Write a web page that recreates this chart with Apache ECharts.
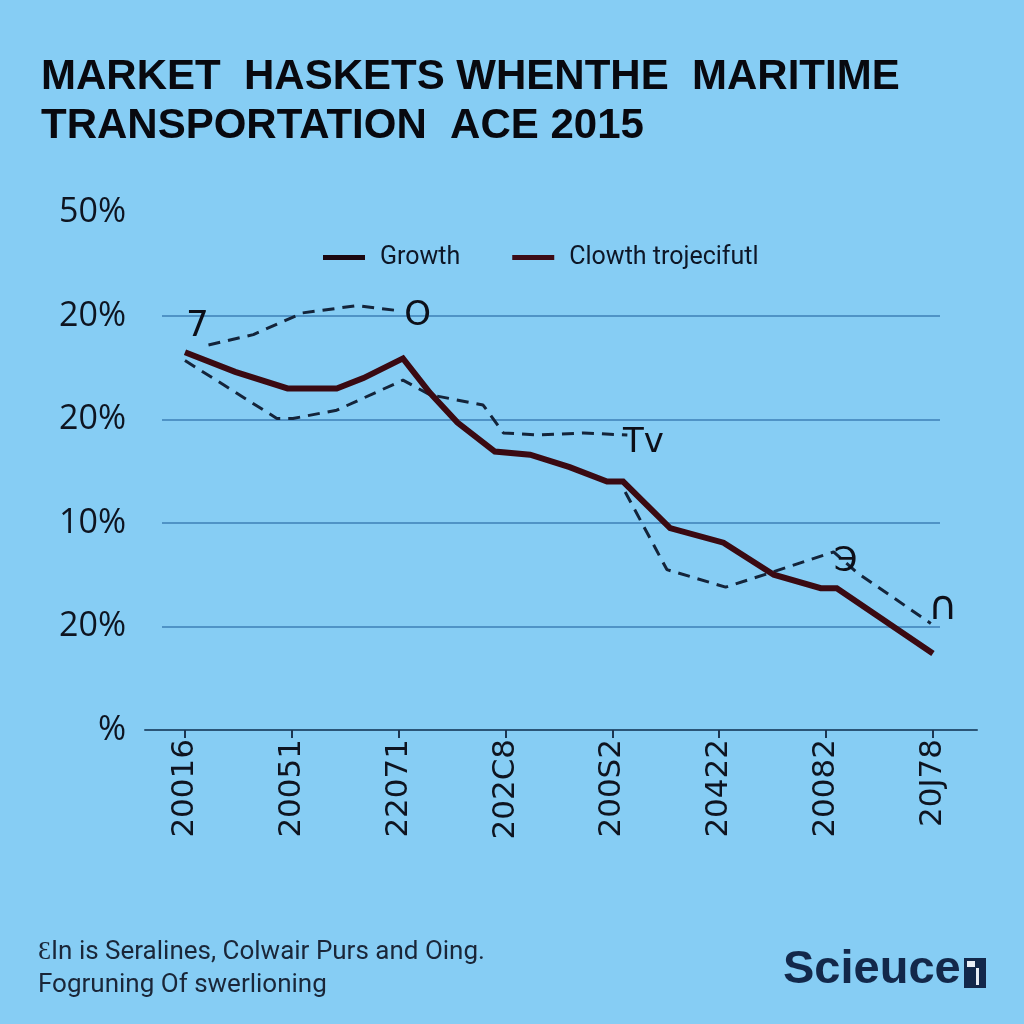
<!DOCTYPE html>
<html>
<head>
<meta charset="utf-8">
<script src="https://cdn.jsdelivr.net/npm/echarts@6/dist/echarts.min.js"></script>
<style>
html,body{margin:0;padding:0;background:#86cdf4;}
#chart{width:1024px;height:1024px;}
</style>
</head>
<body>
<div id="chart"></div>
<script>
// ---- data ----
const titleLines = ['MARKET  HASKETS WHENTHE  MARITIME', 'TRANSPORTATION  ACE 2015'];
const xTickLabels = ['20016', '20051', '22071', '202C8', '200S2', '20422', '20082', '20J78'];
const xTickValues = [0, 1, 2, 3, 4, 5, 6, 7];
const yTickLabels = ['%', '20%', '10%', '20%', '20%', '50%'];
const seriesNames = ['Growth', 'Clowth trojecifutl'];

// solid "Growth" line (x in tick units, y in tick units)
const growthX = [0, 0.47, 0.96, 1.42, 1.67, 2.04, 2.29, 2.55, 2.90, 3.23, 3.60, 3.95, 4.10, 4.54, 5.04, 5.51, 5.95, 6.10, 7.00];
const growthY = [3.65, 3.46, 3.30, 3.30, 3.40, 3.59, 3.26, 2.97, 2.69, 2.66, 2.54, 2.40, 2.40, 1.95, 1.81, 1.50, 1.37, 1.37, 0.74];

// dashed projection pieces
const projAX = [0.22, 0.64, 1.10, 1.61, 2.01];
const projAY = [3.72, 3.82, 4.03, 4.10, 4.05];
const projALabels = ['7', '', '', '', 'O'];

const projBX = [0, 0.86, 1.01, 1.42, 2.04, 2.29, 2.79, 2.98, 3.30, 3.73, 4.14];
const projBY = [3.57, 3.01, 3.01, 3.09, 3.38, 3.24, 3.14, 2.87, 2.85, 2.87, 2.85];
const projBLabels = ['', '', '', '', '', '', '', '', '', '', 'Tv'];

const projCX = [4.12, 4.51, 5.06, 5.51, 6.07, 6.29, 6.98];
const projCY = [2.30, 1.55, 1.38, 1.53, 1.72, 1.52, 1.03];
const projCLabels = ['', '', '', '', 'Э', '', '∩'];

const footerLines = ['ƐIn is Seralines, Colwair Purs and Oing.', 'Fogruning Of swerlioning'];
const logoText = 'Scieuce';

// ---- styling / layout ----
const BG = '#86cdf4';
const DASH = '#14243a';
const SOLID = '#3a0a12';
const annotOffsets = {
  '7': [-11, -18], 'O': [18, 5], 'Tv': [16, 8], 'Э': [12, 10], '∩': [12, -15]
};
const annotSizes = { '7': 36, 'O': 34, 'Tv': 34, 'Э': 34, '∩': 40 };

function buildDashed(xs, ys, labels) {
  return xs.map((x, i) => {
    const t = labels[i];
    const item = { value: [x, ys[i]] };
    if (t) {
      item.label = {
        show: true, formatter: t, position: 'inside',
        offset: annotOffsets[t], align: 'center', verticalAlign: 'middle',
        fontSize: annotSizes[t], color: '#0d0f18', fontFamily: 'DejaVu Sans'
      };
    }
    return item;
  });
}

function dashedSeries(xs, ys, labels) {
  return {
    name: seriesNames[1], type: 'line', xAxisIndex: 0, yAxisIndex: 0,
    data: buildDashed(xs, ys, labels),
    showSymbol: true, symbol: 'circle', symbolSize: 0,
    itemStyle: { color: 'rgba(0,0,0,0)' },
    lineStyle: { color: DASH, width: 3, type: [12, 8] },
    label: { show: false },
    emphasis: { disabled: true }, z: 2, silent: true
  };
}

const chart = echarts.init(document.getElementById('chart'), null, { renderer: 'canvas' });
const option = {
  backgroundColor: BG,
  animation: false,
  title: {
    text: titleLines.join('\n'), left: 36, top: 48,
    textStyle: { fontFamily: 'Liberation Sans', fontWeight: 'bold', fontSize: 42, lineHeight: 49, color: '#08090f' }
  },
  legend: {
    left: 318, top: 240, itemWidth: 42, itemHeight: 5, itemGap: 52, icon: 'rect',
    data: [
      { name: seriesNames[0], itemStyle: { color: '#1c0810' } },
      { name: seriesNames[1], itemStyle: { color: '#3d0c16' } }
    ],
    textStyle: { fontFamily: 'Roboto', fontSize: 25, color: '#0d1626', padding: [0, 0, 0, 10] }
  },
  grid: [
    { left: 162, right: 84, top: 212.5, bottom: 294, containLabel: false },
    { left: 145, right: 47, top: 212.5, bottom: 294, containLabel: false }
  ],
  xAxis: [
    {
      type: 'value', gridIndex: 0, min: -0.215, max: 7.066,
      axisLine: { show: false },
      axisTick: { show: true, customValues: xTickValues, length: 8, lineStyle: { color: '#1d3550', width: 2 } },
      axisLabel: {
        customValues: xTickValues, rotate: 90, margin: 9,
        formatter: v => xTickLabels[Math.round(v)],
        fontFamily: 'DejaVu Sans', fontSize: 31, color: '#0e1420'
      },
      splitLine: { show: false }
    },
    {
      type: 'value', gridIndex: 1, min: 0, max: 1,
      axisLine: { show: true, lineStyle: { color: '#2b5577', width: 2 } },
      axisTick: { show: false }, axisLabel: { show: false }, splitLine: { show: false }
    }
  ],
  yAxis: [
    {
      type: 'value', gridIndex: 0, min: 0, max: 5, interval: 1,
      axisLine: { show: false }, axisTick: { show: false },
      axisLabel: {
        formatter: v => yTickLabels[Math.round(v)], margin: 36,
        fontFamily: 'Open Sans', fontSize: 34, color: '#0e1420'
      },
      splitLine: { show: true, showMinLine: false, showMaxLine: false, lineStyle: { color: '#4f93c6', width: 2 } }
    },
    { type: 'value', gridIndex: 1, min: 0, max: 1, show: false }
  ],
  series: [
    dashedSeries(projAX, projAY, projALabels),
    dashedSeries(projBX, projBY, projBLabels),
    dashedSeries(projCX, projCY, projCLabels),
    {
      name: seriesNames[0], type: 'line', xAxisIndex: 0, yAxisIndex: 0,
      data: growthX.map((x, i) => [x, growthY[i]]),
      showSymbol: false, symbol: 'none',
      itemStyle: { color: SOLID },
      lineStyle: { color: SOLID, width: 6, join: 'miter' },
      emphasis: { disabled: true }, z: 3, silent: true
    }
  ],
  graphic: [
    {
      type: 'text', left: 38, top: 936,
      style: { text: footerLines.join('\n'), fontFamily: 'Roboto', fontSize: 26, lineHeight: 33, fill: '#1a2638' }
    },
    {
      type: 'text', left: 783, top: 947,
      style: { text: logoText, fontFamily: 'Liberation Sans', fontWeight: 'bold', fontSize: 47, fill: '#13284a' }
    },
    {
      type: 'group', left: 964, top: 958,
      children: [
        { type: 'rect', shape: { x: 0, y: 0, width: 22, height: 30 }, style: { fill: '#13284a' } },
        { type: 'rect', shape: { x: 3, y: 3, width: 8, height: 6 }, style: { fill: '#e8eef5' } },
        { type: 'rect', shape: { x: 12, y: 10, width: 3, height: 17 }, style: { fill: '#e8eef5' } }
      ]
    }
  ]
};
chart.setOption(option);
</script>
</body>
</html>
